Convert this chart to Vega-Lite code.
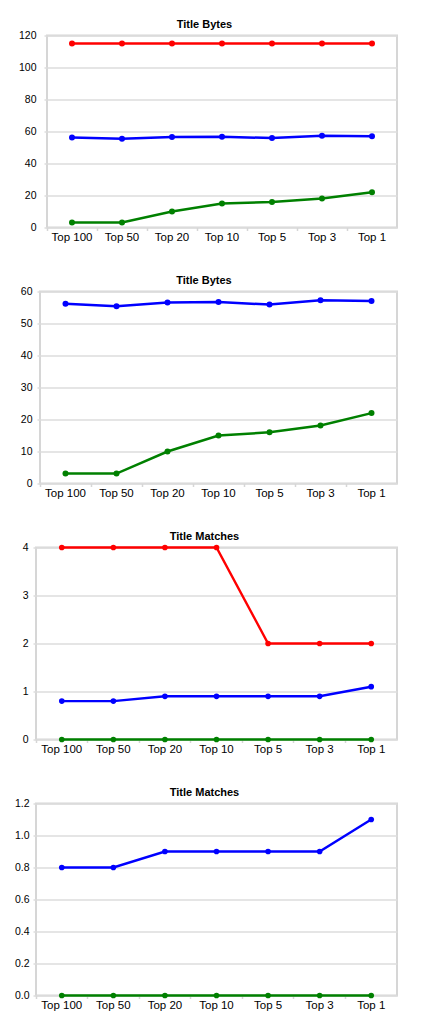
{
  "$schema": "https://vega.github.io/schema/vega-lite/v6.json",
  "padding": {"left": 0, "top": 17.5, "right": 0, "bottom": 0},
  "background": "white",
  "config": {
    "font": "Liberation Sans",
    "view": {"stroke": "#d6d6d6", "strokeWidth": 2},
    "title": {"fontSize": 11, "fontWeight": "bold", "color": "#000000", "baseline": "alphabetic", "offset": 1, "frame": "group", "anchor": "middle", "font": "Liberation Sans"},
    "axisX": {"domain": false, "grid": false, "ticks": true, "tickColor": "#d6d6d6", "tickWidth": 1.5, "tickSize": 3, "bandPosition": 0, "labelFontSize": 11.5, "labelColor": "#000000", "labelPadding": 1, "labelAngle": 0, "title": null},
    "axisY": {"domain": false, "grid": true, "gridColor": "#dddddd", "gridWidth": 1.5, "ticks": true, "tickColor": "#dddddd", "tickWidth": 1.5, "tickSize": 3, "labelFontSize": 10.5, "labelColor": "#000000", "title": null}
  },
  "datasets": {
    "d": [
      {"metric": "bytes", "series": "max", "rank": "Top 100", "value": 115},
      {"metric": "bytes", "series": "max", "rank": "Top 50", "value": 115},
      {"metric": "bytes", "series": "max", "rank": "Top 20", "value": 115},
      {"metric": "bytes", "series": "max", "rank": "Top 10", "value": 115},
      {"metric": "bytes", "series": "max", "rank": "Top 5", "value": 115},
      {"metric": "bytes", "series": "max", "rank": "Top 3", "value": 115},
      {"metric": "bytes", "series": "max", "rank": "Top 1", "value": 115},
      {"metric": "bytes", "series": "avg", "rank": "Top 100", "value": 56.2},
      {"metric": "bytes", "series": "avg", "rank": "Top 50", "value": 55.4},
      {"metric": "bytes", "series": "avg", "rank": "Top 20", "value": 56.6},
      {"metric": "bytes", "series": "avg", "rank": "Top 10", "value": 56.7},
      {"metric": "bytes", "series": "avg", "rank": "Top 5", "value": 55.9},
      {"metric": "bytes", "series": "avg", "rank": "Top 3", "value": 57.3},
      {"metric": "bytes", "series": "avg", "rank": "Top 1", "value": 57.0},
      {"metric": "bytes", "series": "min", "rank": "Top 100", "value": 3.1},
      {"metric": "bytes", "series": "min", "rank": "Top 50", "value": 3.1},
      {"metric": "bytes", "series": "min", "rank": "Top 20", "value": 10},
      {"metric": "bytes", "series": "min", "rank": "Top 10", "value": 15},
      {"metric": "bytes", "series": "min", "rank": "Top 5", "value": 16},
      {"metric": "bytes", "series": "min", "rank": "Top 3", "value": 18.1},
      {"metric": "bytes", "series": "min", "rank": "Top 1", "value": 22},
      {"metric": "matches", "series": "max", "rank": "Top 100", "value": 4},
      {"metric": "matches", "series": "max", "rank": "Top 50", "value": 4},
      {"metric": "matches", "series": "max", "rank": "Top 20", "value": 4},
      {"metric": "matches", "series": "max", "rank": "Top 10", "value": 4},
      {"metric": "matches", "series": "max", "rank": "Top 5", "value": 2},
      {"metric": "matches", "series": "max", "rank": "Top 3", "value": 2},
      {"metric": "matches", "series": "max", "rank": "Top 1", "value": 2},
      {"metric": "matches", "series": "avg", "rank": "Top 100", "value": 0.8},
      {"metric": "matches", "series": "avg", "rank": "Top 50", "value": 0.8},
      {"metric": "matches", "series": "avg", "rank": "Top 20", "value": 0.9},
      {"metric": "matches", "series": "avg", "rank": "Top 10", "value": 0.9},
      {"metric": "matches", "series": "avg", "rank": "Top 5", "value": 0.9},
      {"metric": "matches", "series": "avg", "rank": "Top 3", "value": 0.9},
      {"metric": "matches", "series": "avg", "rank": "Top 1", "value": 1.1},
      {"metric": "matches", "series": "min", "rank": "Top 100", "value": 0},
      {"metric": "matches", "series": "min", "rank": "Top 50", "value": 0},
      {"metric": "matches", "series": "min", "rank": "Top 20", "value": 0},
      {"metric": "matches", "series": "min", "rank": "Top 10", "value": 0},
      {"metric": "matches", "series": "min", "rank": "Top 5", "value": 0},
      {"metric": "matches", "series": "min", "rank": "Top 3", "value": 0},
      {"metric": "matches", "series": "min", "rank": "Top 1", "value": 0}
    ]
  },
  "columns": 2,
  "align": "none",
  "spacing": {"row": 29, "column": 0},
  "concat": [
    {"width": 1, "height": 1, "view": {"fill": "#ffffff", "stroke": null}, "data": {"values": []}, "mark": "point"},
    {
      "width": 350, "height": 192,
      "data": {"name": "d"},
      "title": {"text": "Title Bytes", "dx": -17.5},
      "transform": [{"filter": "datum.metric === 'bytes'"}],
      "mark": {"type": "line", "strokeWidth": 2.5, "point": {"filled": true, "size": 36, "opacity": 1}},
      "encoding": {
        "x": {"field": "rank", "type": "nominal", "sort": ["Top 100", "Top 50", "Top 20", "Top 10", "Top 5", "Top 3", "Top 1"], "scale": {"type": "band", "paddingInner": 0, "paddingOuter": 0}},
        "y": {"field": "value", "type": "quantitative", "scale": {"domain": [0, 120], "nice": false}, "axis": {"values": [0, 20, 40, 60, 80, 100, 120], "labelPadding": 8, "minExtent": 44.5}},
        "color": {"field": "series", "type": "nominal", "scale": {"domain": ["max", "avg", "min"], "range": ["#ff0000", "#0000ff", "#008000"]}, "legend": null}
      }
    },
    {"width": 1, "height": 1, "view": {"fill": "#ffffff", "stroke": null}, "data": {"values": []}, "mark": "point"},
    {
      "width": 357, "height": 192,
      "data": {"name": "d"},
      "title": {"text": "Title Bytes", "dx": -14.5},
      "transform": [{"filter": "datum.metric === 'bytes' && datum.series !== 'max'"}],
      "mark": {"type": "line", "strokeWidth": 2.5, "point": {"filled": true, "size": 36, "opacity": 1}},
      "encoding": {
        "x": {"field": "rank", "type": "nominal", "sort": ["Top 100", "Top 50", "Top 20", "Top 10", "Top 5", "Top 3", "Top 1"], "scale": {"type": "band", "paddingInner": 0, "paddingOuter": 0}},
        "y": {"field": "value", "type": "quantitative", "scale": {"domain": [0, 60], "nice": false}, "axis": {"values": [0, 10, 20, 30, 40, 50, 60], "labelPadding": 5, "minExtent": 38}},
        "color": {"field": "series", "type": "nominal", "scale": {"domain": ["max", "avg", "min"], "range": ["#ff0000", "#0000ff", "#008000"]}, "legend": null}
      }
    },
    {"width": 1, "height": 1, "view": {"fill": "#ffffff", "stroke": null}, "data": {"values": []}, "mark": "point"},
    {
      "width": 361, "height": 192,
      "data": {"name": "d"},
      "title": {"text": "Title Matches", "dx": -12},
      "transform": [{"filter": "datum.metric === 'matches'"}],
      "mark": {"type": "line", "strokeWidth": 2.4, "point": {"filled": true, "size": 32, "opacity": 1}},
      "encoding": {
        "x": {"field": "rank", "type": "nominal", "sort": ["Top 100", "Top 50", "Top 20", "Top 10", "Top 5", "Top 3", "Top 1"], "scale": {"type": "band", "paddingInner": 0, "paddingOuter": 0}},
        "y": {"field": "value", "type": "quantitative", "scale": {"domain": [0, 4], "nice": false}, "axis": {"values": [0, 1, 2, 3, 4], "labelPadding": 5, "minExtent": 33.3}},
        "color": {"field": "series", "type": "nominal", "scale": {"domain": ["max", "avg", "min"], "range": ["#ff0000", "#0000ff", "#008000"]}, "legend": null}
      }
    },
    {"width": 1, "height": 1, "view": {"fill": "#ffffff", "stroke": null}, "data": {"values": []}, "mark": "point"},
    {
      "width": 361, "height": 192,
      "data": {"name": "d"},
      "title": {"text": "Title Matches", "dx": -12},
      "transform": [{"filter": "datum.metric === 'matches' && datum.series !== 'max'"}],
      "mark": {"type": "line", "strokeWidth": 2.4, "point": {"filled": true, "size": 32, "opacity": 1}},
      "encoding": {
        "x": {"field": "rank", "type": "nominal", "sort": ["Top 100", "Top 50", "Top 20", "Top 10", "Top 5", "Top 3", "Top 1"], "scale": {"type": "band", "paddingInner": 0, "paddingOuter": 0}},
        "y": {"field": "value", "type": "quantitative", "scale": {"domain": [0, 1.2], "nice": false}, "axis": {"values": [0, 0.2, 0.4, 0.6, 0.8, 1.0, 1.2], "format": ".1f", "labelPadding": 4, "minExtent": 33.3}},
        "color": {"field": "series", "type": "nominal", "scale": {"domain": ["max", "avg", "min"], "range": ["#ff0000", "#0000ff", "#008000"]}, "legend": null}
      }
    }
  ]
}
